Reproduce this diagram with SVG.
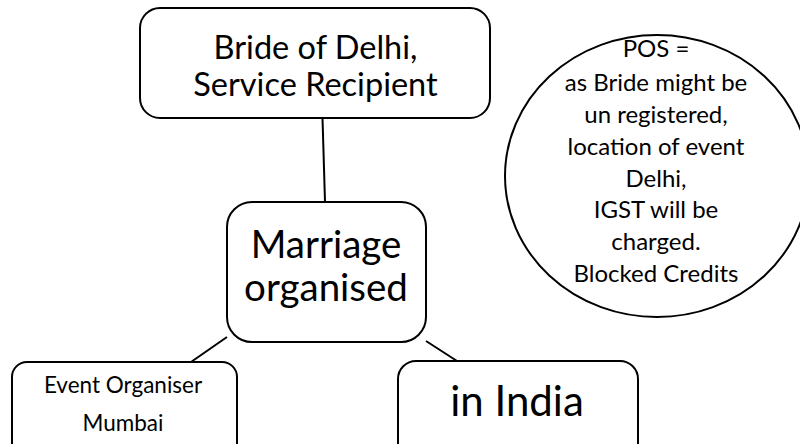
<svg xmlns="http://www.w3.org/2000/svg" width="800" height="444" viewBox="0 0 800 444">
<style>
.box{fill:#fff;stroke:#000;stroke-width:2}
.ln{stroke:#000;stroke-width:2;fill:none}
text{font-family:Lato,"Open Sans","Liberation Sans",sans-serif;fill:#000;text-anchor:middle}
.c{font-size:24px}
</style>
<rect width="800" height="444" fill="#fff"/>
<g id="connectors">
<line class="ln" x1="322.5" y1="118" x2="325" y2="202"/>
<line class="ln" x1="227" y1="337" x2="191" y2="362"/>
<line class="ln" x1="426" y1="341" x2="457" y2="361"/>
</g>
<g id="bride">
<rect class="box" x="140" y="8" width="350" height="110" rx="20"/>
<text x="315.5" y="59" font-size="32.5">Bride of Delhi,</text>
<text x="315.5" y="96" font-size="32.5">Service Recipient</text>
</g>
<g id="marriage">
<rect class="box" x="227" y="202" width="199" height="140" rx="25"/>
<text x="326" y="258" font-size="38.5">Marriage</text>
<text x="326" y="301" font-size="38.5">organised</text>
</g>
<g id="organiser">
<rect class="box" x="12" y="362" width="225" height="100" rx="15"/>
<text x="123" y="393" font-size="22.5">Event Organiser</text>
<text x="123" y="431" font-size="22.5">Mumbai</text>
</g>
<g id="india">
<rect class="box" x="398" y="361" width="240" height="100" rx="18"/>
<text x="517" y="416" font-size="42">in India</text>
</g>
<g id="pos">
<ellipse class="box" cx="657" cy="176" rx="152" ry="141"/>
<text class="c" x="656" y="57">POS =</text>
<text class="c" x="656" y="91">as Bride might be</text>
<text class="c" x="656" y="123">un registered,</text>
<text class="c" x="656" y="155">location of event</text>
<text class="c" x="656" y="187">Delhi,</text>
<text class="c" x="656" y="218">IGST will be</text>
<text class="c" x="656" y="250">charged.</text>
<text class="c" x="656" y="282">Blocked Credits</text>
</g>
</svg>
